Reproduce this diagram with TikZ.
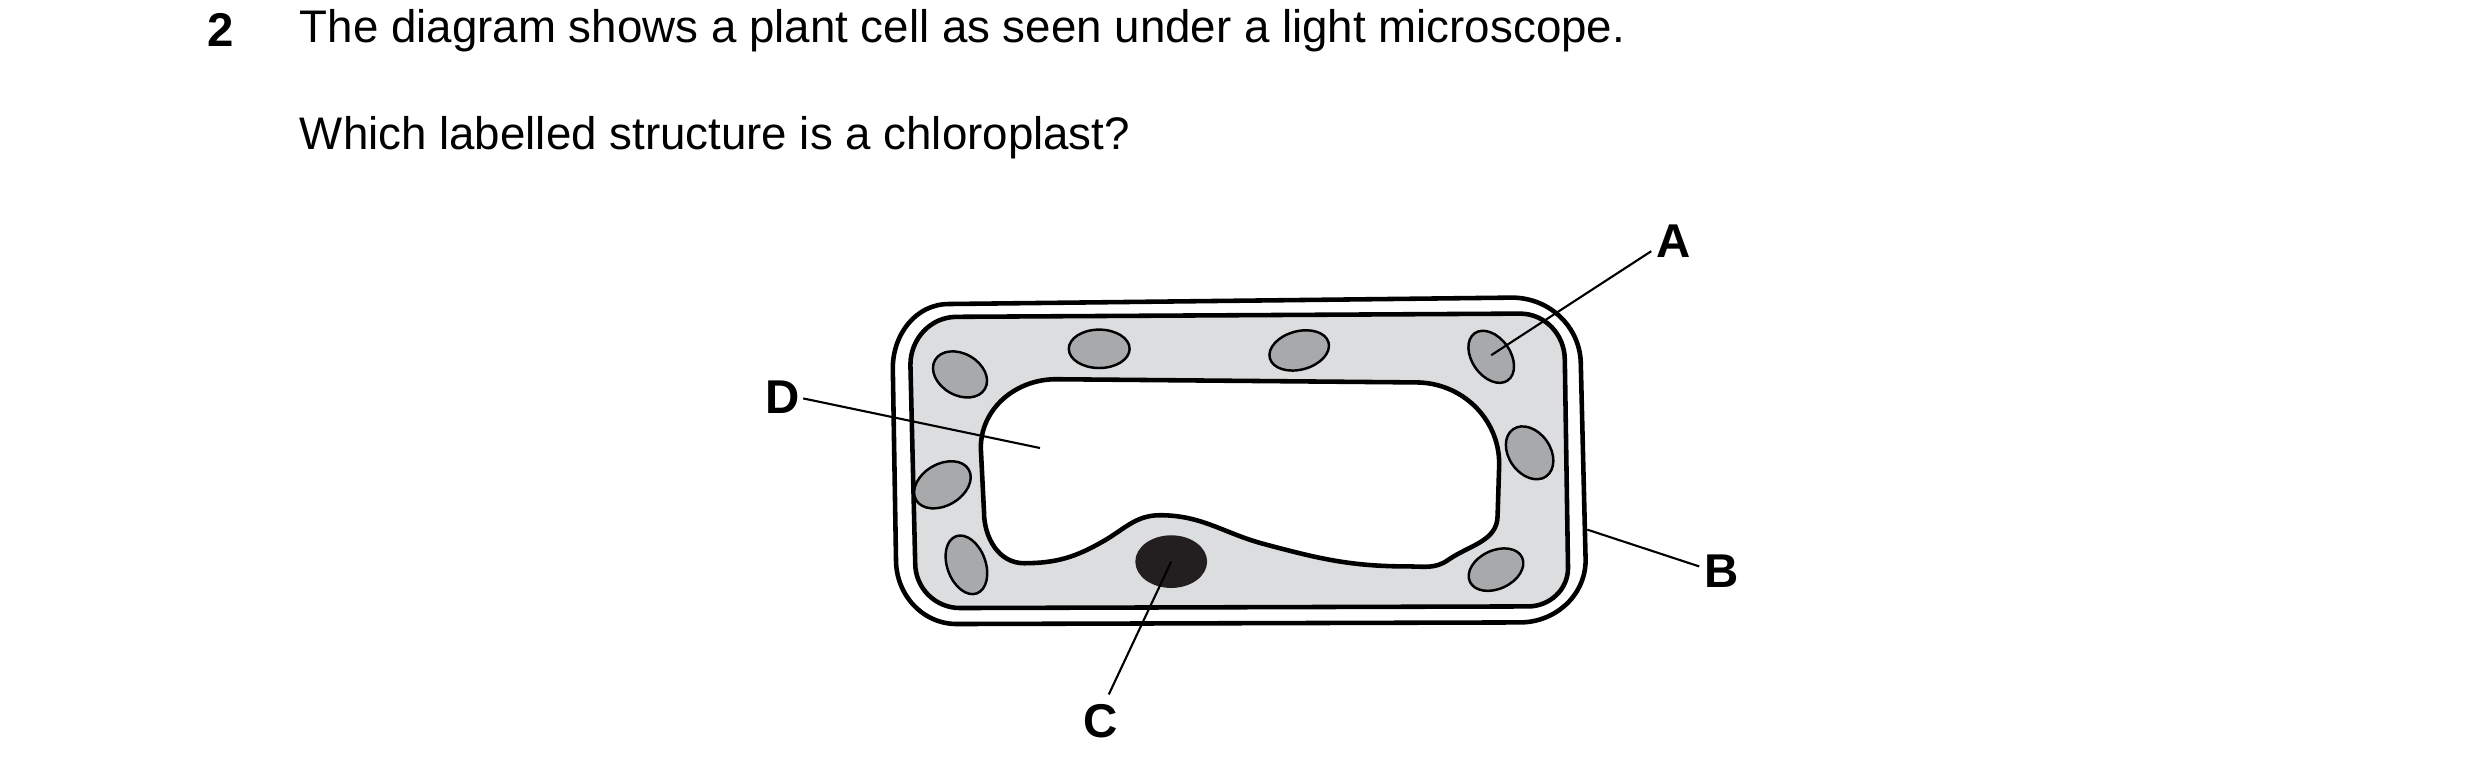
\documentclass[tikz,border=0pt]{standalone}
\usepackage{fontspec}
\setmainfont{Liberation Sans}
\begin{document}
\begin{tikzpicture}[x={(0.016cm,0)},y={(0,-0.016cm)},
  txt/.style={inner sep=0pt,anchor=west,font=\fontsize{13}{15}\selectfont},
  lab/.style={inner sep=0pt,font=\fontsize{13.5}{15}\selectfont\bfseries},
  wall/.style={line width=1.3pt,line join=round},
  chl/.style={fill=chlgrey,draw=black,line width=0.7pt},
  lead/.style={line width=0.6pt}]
\definecolor{cyto}{HTML}{DCDDDF}
\definecolor{chlgrey}{HTML}{A8A9AB}
\definecolor{nuc}{HTML}{231F20}
\useasboundingbox (0,0) rectangle (1550,481);
\node[lab] (num) at (138,19) {2};
\node[txt] (t1) at (187,19) {The diagram shows a plant cell as seen under a light microscope.};
\node[txt] (t2) at (187,86) {Which labelled structure is a chloroplast?};
% outer wall
\draw[wall] (593,190) -- (945,186) to[out=0,in=90] (988,228) -- (991,350) to[out=-90,in=0] (950,389) -- (598,390) to[out=180,in=-90] (560,350) -- (558,230) to[out=90,in=180] (593,190);
% membrane / cytoplasm
\draw[wall,fill=cyto] (598,198) -- (950,196) to[out=0,in=90] (978,225) -- (980,355) to[out=-90,in=0] (955,379) -- (600,380) to[out=180,in=-90] (572,352) -- (569,228) to[out=90,in=180] (598,198);
% vacuole
\draw[wall,fill=white] (660,237) -- (885,239) to[out=0,in=90] (937,290) -- (936,322)
  to[out=-90,in=35] (905,350) to[out=215,in=0] (880,354)
  to[out=180,in=-15] (790,340) to[out=165,in=0] (725,322)
  to[out=180,in=30] (690,338) to[out=210,in=0] (640,352) to[out=180,in=-90] (615,320)
  -- (613,280) to[out=90,in=180] (660,237);
% chloroplasts
\draw[chl,rotate around={-30:(600,234)}] (600,234) ellipse [x radius=18,y radius=13];
\draw[chl] (687,218) ellipse [x radius=19,y radius=12];
\draw[chl,rotate around={15:(812,219)}] (812,219) ellipse [x radius=19,y radius=12];
\draw[chl,rotate around={35:(932,223)}] (932,223) ellipse [x radius=12,y radius=18];
\draw[chl,rotate around={35:(956,283)}] (956,283) ellipse [x radius=13,y radius=18];
\draw[chl,rotate around={30:(589,303)}] (589,303) ellipse [x radius=19,y radius=13];
\draw[chl,rotate around={20:(604,353)}] (604,353) ellipse [x radius=12,y radius=19];
\draw[chl,rotate around={25:(935,356)}] (935,356) ellipse [x radius=18,y radius=12];
% nucleus
\draw[fill=nuc,draw=nuc] (732,351) ellipse [x radius=22,y radius=16];
% labels
\node[lab] (A) at (1046,151) {A};
\node[lab] (B) at (1076,357) {B};
\node[lab] (C) at (688,451) {C};
\node[lab] (D) at (489,248) {D};
\coordinate (a) at (932,222);
\coordinate (b) at (992,331);
\coordinate (c) at (732,351);
\coordinate (d) at (650,280);
\draw[lead] (1032,157) -- (a);
\draw[lead] (1062,354) -- (b);
\draw[lead] (693,434) -- (c);
\draw[lead] (502,249) -- (d);
\end{tikzpicture}
\end{document}
